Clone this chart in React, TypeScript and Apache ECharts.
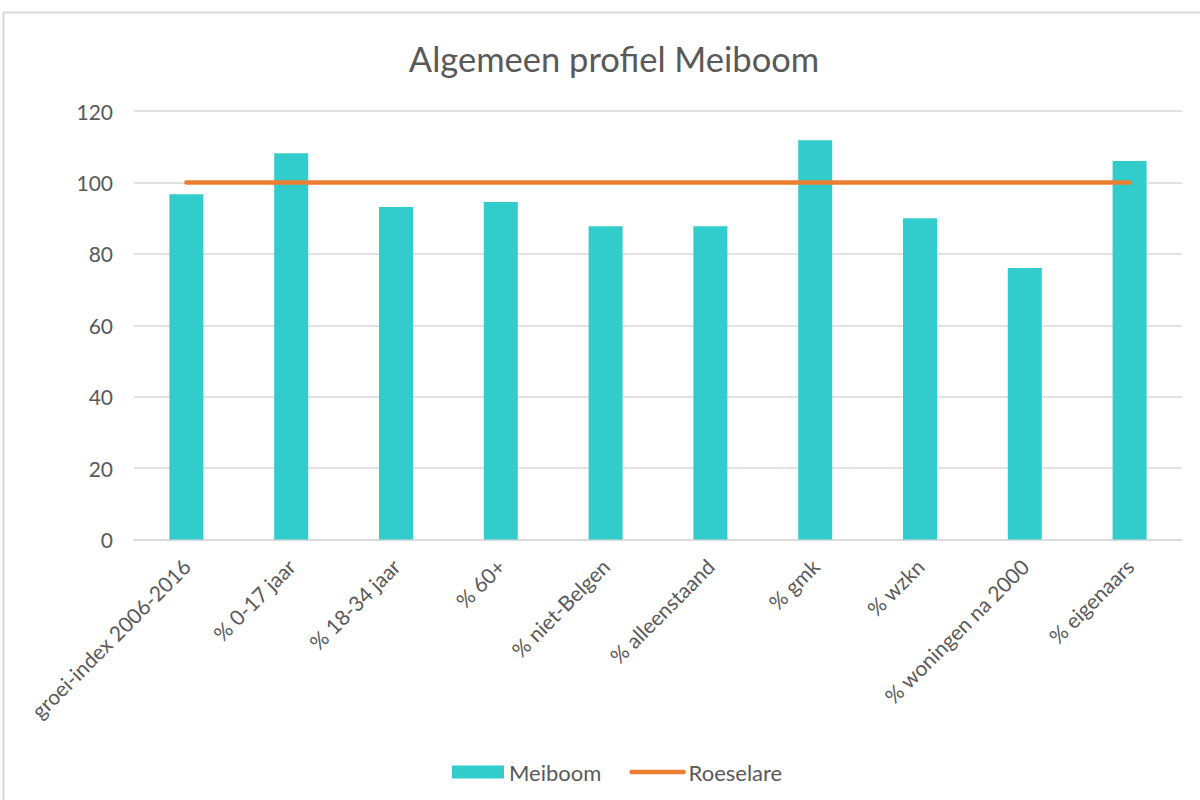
import React, { useEffect, useRef } from "react";
import * as echarts from "echarts";

const categories = [
  "groei-index 2006-2016",
  "% 0-17 jaar",
  "% 18-34 jaar",
  "% 60+",
  "% niet-Belgen",
  "% alleenstaand",
  "% gmk",
  "% wzkn",
  "% woningen na 2000",
  "% eigenaars",
];
const meiboom = [96.7, 108.2, 93.1, 94.5, 87.7, 87.7, 111.8, 90.0, 76.0, 106.0];
const roeselare = [100, 100, 100, 100, 100, 100, 100, 100, 100, 100];
const yTicks = [0, 20, 40, 60, 80, 100, 120];

export default function App() {
  const ref = useRef<HTMLDivElement>(null);
  useEffect(() => {
    if (!ref.current) return;
    const chart = echarts.init(ref.current, null, { renderer: "svg" });
    const font = "Lato, 'Open Sans', sans-serif";
    chart.setOption({
      animation: false,
      backgroundColor: "#ffffff",
      textStyle: { fontFamily: font },
      title: {
        text: "Algemeen profiel Meiboom",
        left: 609,
        textAlign: "center",
        top: 36,
        textStyle: { fontFamily: font, fontSize: 34.5, fontWeight: "normal", color: "#595959" },
      },
      graphic: [
        {
          type: "rect",
          shape: { x: 3.5, y: 12.5, width: 1210, height: 800 },
          style: { fill: "none", stroke: "#d9d9d9", lineWidth: 2 },
          silent: true,
        },
      ],
      legend: {
        top: 756,
        left: 447,
        itemGap: 28,
        itemWidth: 52,
        itemHeight: 13,
        textStyle: { fontFamily: font, fontSize: 22, color: "#595959" },
        data: [
          { name: "Meiboom", icon: "rect" },
          { name: "Roeselare", itemStyle: { opacity: 0 }, lineStyle: { width: 4.5, cap: "round" } },
        ],
      },
      grid: { left: 134, right: 18, top: 111, bottom: 260.5, containLabel: false },
      xAxis: {
        type: "category",
        data: categories,
        axisLine: { lineStyle: { color: "#d9d9d9", width: 1.5 } },
        axisTick: { show: false },
        axisLabel: {
          rotate: 45,
          interval: 0,
          fontSize: 21,
          color: "#595959",
          fontFamily: font,
          margin: 23,
        },
      },
      yAxis: {
        type: "value",
        min: yTicks[0],
        max: yTicks[yTicks.length - 1],
        interval: 20,
        axisLine: { show: false },
        axisTick: { show: false },
        axisLabel: { fontSize: 21, color: "#595959", fontFamily: font, margin: 21 },
        splitLine: { lineStyle: { color: "#d9d9d9", width: 1.5 } },
      },
      series: [
        {
          name: "Meiboom",
          type: "bar",
          data: meiboom,
          barWidth: 34,
          itemStyle: { color: "#33CCCC" },
        },
        {
          name: "Roeselare",
          type: "line",
          data: roeselare,
          symbol: "none",
          lineStyle: { color: "#ED7D31", width: 4.5, cap: "round" },
          itemStyle: { color: "#ED7D31" },
        },
      ],
    });
    return () => chart.dispose();
  }, []);
  return (
    <div
      ref={ref}
      style={{ position: "fixed", left: 0, top: 0, width: 1200, height: 800 }}
    />
  );
}
